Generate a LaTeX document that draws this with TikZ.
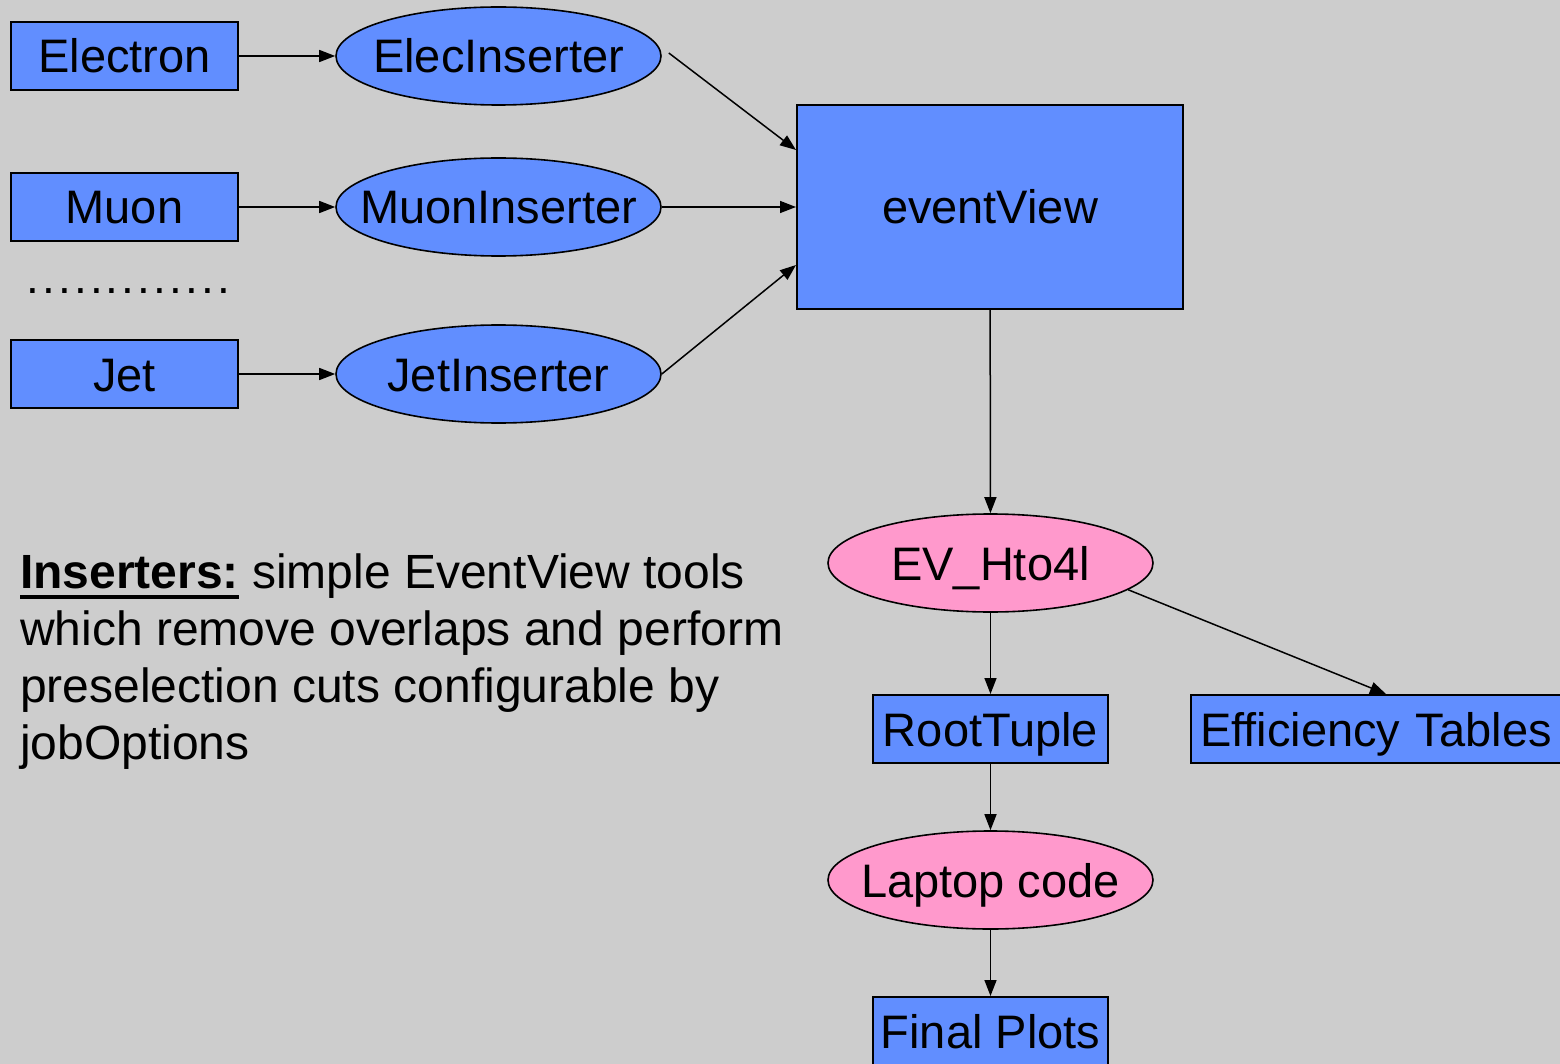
\documentclass[tikz,border=0pt]{standalone}
\usepackage{fontspec}
\setmainfont{Liberation Sans}
\usetikzlibrary{shapes.geometric,arrows.meta}
\definecolor{bgray}{RGB}{205,205,205}
\definecolor{nblue}{RGB}{97,142,255}
\definecolor{npink}{RGB}{255,153,204}
\newcommand{\zw}[1]{\makebox[0pt]{#1}}
\tikzset{
  box/.style={draw=black, line width=2pt, fill=nblue, rectangle, inner sep=0pt,
    minimum width=227pt, minimum height=68pt, text height=34pt, text depth=0pt,
    font=\fontsize{47}{55}\selectfont},
  ins/.style={draw=black, line width=1.6pt, fill=nblue, ellipse, inner sep=0pt,
    minimum width=325pt, minimum height=98pt, text height=34pt, text depth=0pt,
    font=\fontsize{47}{55}\selectfont},
  pinkell/.style={ins, fill=npink},
  arr/.style={line width=1.5pt, -{Triangle[length=16pt,width=12pt]}},
}
\begin{document}
\begin{tikzpicture}[x=1pt,y=-1pt]
\path[use as bounding box, fill=bgray] (0,0) rectangle (1560,1064);
\clip (0,0) rectangle (1560,1064);

\node[box] (e) at (124.5,56) {Electron};
\node[box] (m) at (124.5,207) {Muon};
\node[box] (j) at (124.5,374) {Jet};
\node[ins] (ei) at (498.5,56) {\zw{ElecInserter}};
\node[ins] (mi) at (498.5,207) {\zw{MuonInserter}};
\node[ins] (ji) at (498.5,374) {\zw{JetInserter}};
\def\dd{.\kern3.1pt}
\node[anchor=base west, inner sep=0pt, font=\fontsize{46}{55}\selectfont] (dots) at (26.4,294) {\dd\dd\dd\dd\dd\dd\dd\dd\dd\dd\dd\dd.};

\node[box, minimum width=386pt, minimum height=204pt] (ev) at (990,207) {eventView};
\node[pinkell] (h) at (990.5,563) {\zw{EV\_Hto4l}};
\node[box, minimum width=235pt] (rt) at (990.5,729) {RootTuple};
\node[box, anchor=west, text width=362pt, align=left, inner xsep=9pt, minimum width=380pt] (eff) at (1190,729) {Efficiency Tables};
\node[pinkell] (lc) at (990.5,880) {\zw{Laptop code}};
\node[box, minimum width=235pt] (fp) at (990.5,1031) {Final Plots};

\draw[arr] (e) -- (ei);
\draw[arr] (m) -- (mi);
\draw[arr] (j) -- (ji);
\draw[arr] ([xshift=7pt,yshift=3pt]ei.east) -- ([yshift=57pt]ev.west);
\draw[arr] (mi) -- (ev);
\draw[arr] (ji.east) -- ([yshift=-58pt]ev.west);
\draw[arr] (ev) -- (h);
\draw[arr] (h) -- (rt);
\draw[arr] (h.-11) -- ([xshift=5pt]eff.north);
\draw[arr] (rt) -- (lc);
\draw[arr] (lc) -- (fp);

\node[anchor=base west, inner sep=0pt, align=left, font=\fontsize{48}{57}\selectfont] (txt) at (20,759)
 {{\bfseries\setbox0\hbox{Inserters:}\rlap{\rule[-11pt]{\wd0}{4pt}}\box0} simple EventView tools\\
  which remove overlaps and perform\\
  preselection cuts configurable by\\
  jobOptions};
\end{tikzpicture}
\end{document}
